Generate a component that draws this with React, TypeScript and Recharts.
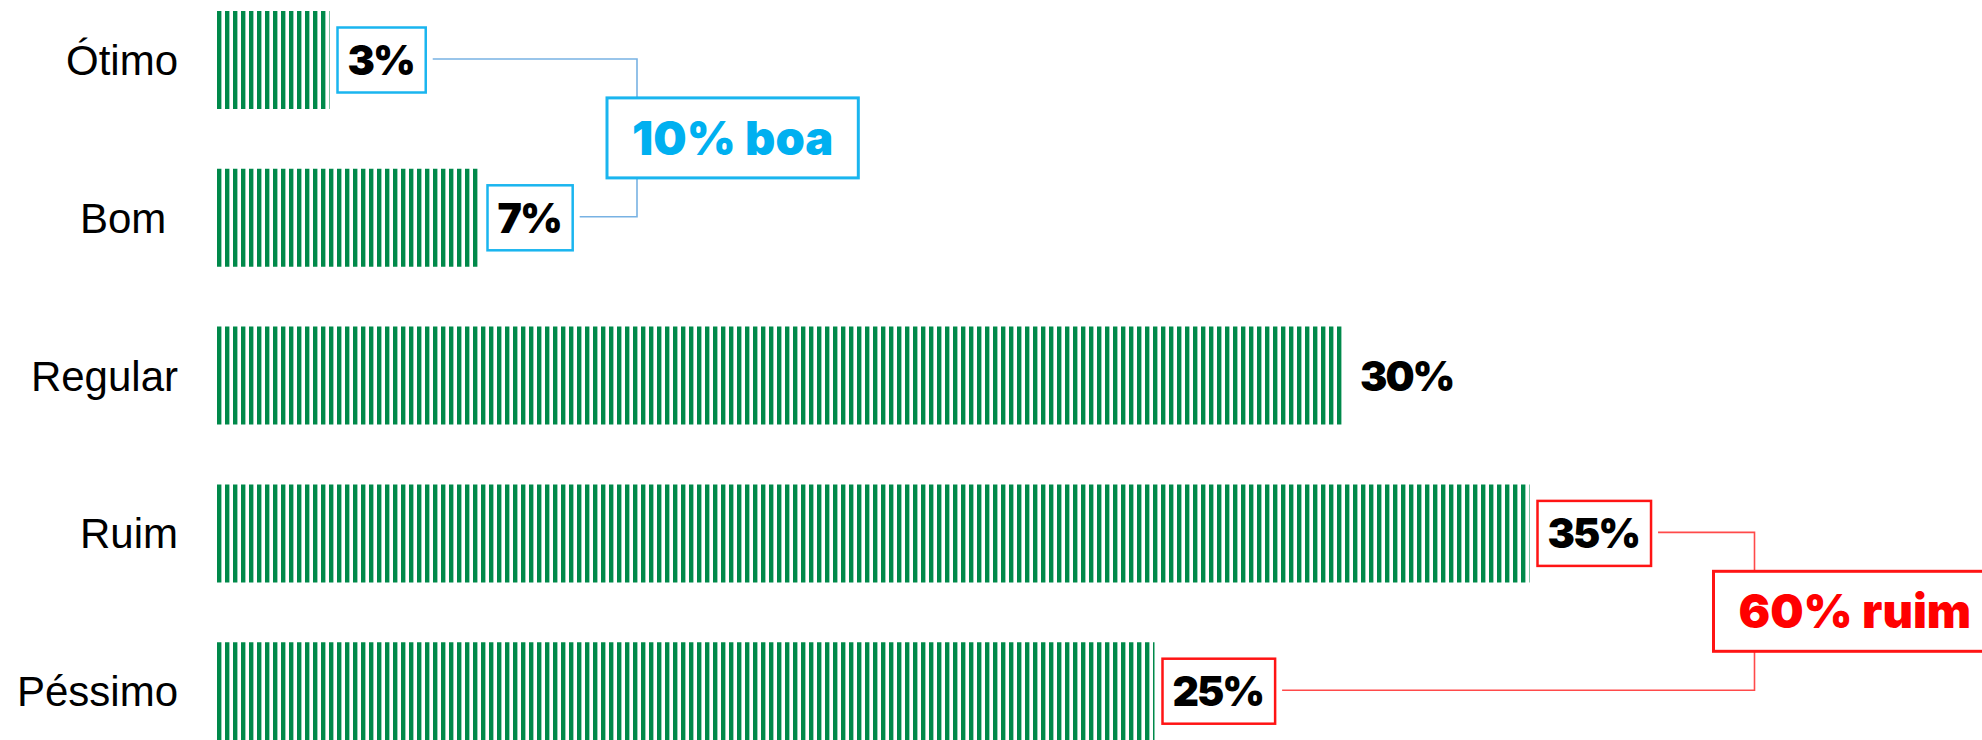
import React from 'react';
import { BarChart, Bar, XAxis, YAxis, LabelList } from 'recharts';

// data
const categories = ['Ótimo', 'Bom ', 'Regular', 'Ruim', 'Péssimo'];
const shares = [3, 7, 30, 35, 25];
const shareLabels = ['3%', '7%', '30%', '35%', '25%'];
// which summary group boxes each value label (null = plain label)
const shareGroup = ['boa', 'boa', null, 'ruim', 'ruim'];

const groupKeys = ['boa', 'ruim'];
const groupLabels = ['10% boa', '60% ruim'];
const groupFirst = [0, 3];
const groupLast = [1, 4];

const data = categories.map((name, i) => ({ name, value: shares[i], label: shareLabels[i] }));

// layout
const W = 1982;
const H = 740;
const CHART_TOP = -19;
const CHART_H = 789;
const AXIS_W = 217;
const RIGHT = 265;
const BAND = CHART_H / categories.length;
const BAR = 98;

const GREEN = '#00894a';
const STYLE: Record<string, any> = {
  boa: { text: '#00b0f0', box: '#1ab5ef', line: '#78b2e3', bracketAt: 11.2, boxShift: 30 },
  ruim: { text: '#ff0000', box: '#ff1414', line: '#ff4a4a', bracketAt: 41, boxShift: 41 },
};

const BOLD_FONT = "Inter, Lato, 'DejaVu Sans', sans-serif";
const VALUE_FONT = 41;
const VALUE_SPACING = -2;
const SUM_FONT = 47;

let ctx: CanvasRenderingContext2D | null = null;
const textWidth = (s: string, size: number, spacing = 0) => {
  if (!ctx && typeof document !== 'undefined') ctx = document.createElement('canvas').getContext('2d');
  let w = s.length * size * 0.6;
  if (ctx) {
    ctx.font = `900 ${size}px ${BOLD_FONT}`;
    w = ctx.measureText(s).width;
  }
  return w + (s.length - 1) * spacing;
};

const AxisTick = (props: any) => {
  const { x, y, payload } = props;
  return (
    <text
      x={x}
      y={y}
      dy={15}
      textAnchor="end"
      fill="#000"
      fontSize={42}
      fontFamily="'Liberation Sans', Arial, sans-serif"
      style={{ whiteSpace: 'pre' }}
    >
      {payload.value}
    </text>
  );
};

const ValueLabel = (props: any) => {
  const vb = props.viewBox || {};
  const x = props.x ?? vb.x;
  const y = props.y ?? vb.y;
  const width = props.width ?? vb.width;
  const height = props.height ?? vb.height;
  const index = props.index;
  const cy = y + height / 2;
  const unit = width / shares[index];
  const labelX = (i: number) => x + shares[i] * unit + 18;
  const boxRight = (i: number) => labelX(i) + textWidth(shareLabels[i], VALUE_FONT, VALUE_SPACING) + 10;

  const g = shareGroup[index];
  const tw = textWidth(shareLabels[index], VALUE_FONT, VALUE_SPACING);
  const gi = groupFirst.indexOf(index);

  let bracket = null;
  if (gi >= 0) {
    const st = STYLE[groupKeys[gi]];
    const last = groupLast[gi];
    const y1 = cy - 1;
    const y2 = cy + (last - index) * BAND - 1;
    const vx = x + st.bracketAt * unit;
    const sw = textWidth(groupLabels[gi], SUM_FONT) + 50;
    const bx = vx - st.boxShift;
    const my = (y1 + y2) / 2;
    bracket = (
      <g>
        <polyline
          points={`${boxRight(index) + 7},${y1} ${vx},${y1} ${vx},${y2} ${boxRight(last) + 7},${y2}`}
          fill="none"
          stroke={st.line}
          strokeWidth={1.6}
        />
        <rect x={bx} y={my - 40} width={sw} height={80} fill="#fff" stroke={st.box} strokeWidth={3} />
        <text
          x={bx + sw / 2}
          y={my + 17}
          textAnchor="middle"
          fill={st.text}
          fontSize={SUM_FONT}
          fontWeight={900}
          fontFamily={BOLD_FONT}
        >
          {groupLabels[gi]}
        </text>
      </g>
    );
  }

  return (
    <g>
      {bracket}
      {g && (
        <rect
          x={labelX(index) - 10}
          y={cy - 32.5}
          width={tw + 20}
          height={65}
          fill="#fff"
          stroke={STYLE[g].box}
          strokeWidth={2.5}
        />
      )}
      <text
        x={labelX(index)}
        y={cy + 15}
        fill="#000"
        fontSize={VALUE_FONT}
        fontWeight={900}
        letterSpacing={VALUE_SPACING}
        fontFamily={BOLD_FONT}
      >
        {shareLabels[index]}
      </text>
    </g>
  );
};

export default function App() {
  return (
    <div
      style={{
        position: 'absolute',
        left: 0,
        top: 0,
        width: W,
        height: H,
        overflow: 'hidden',
        background: '#fff',
      }}
    >
      <svg width={0} height={0} style={{ position: 'absolute' }}>
        <defs>
          <pattern id="stripes" patternUnits="userSpaceOnUse" x={AXIS_W} y={0} width={8} height={8}>
            <rect x={0} y={0} width={4.4} height={8} fill={GREEN} />
          </pattern>
        </defs>
      </svg>
      <div style={{ position: 'absolute', left: 0, top: CHART_TOP }}>
        <BarChart
          width={W}
          height={CHART_H}
          data={data}
          layout="vertical"
          margin={{ top: 0, right: RIGHT, bottom: 0, left: 0 }}
        >
          <XAxis type="number" domain={[0, 40]} hide />
          <YAxis
            type="category"
            dataKey="name"
            width={AXIS_W}
            axisLine={false}
            tickLine={false}
            tickSize={0}
            tickMargin={39}
            tick={<AxisTick />}
            interval={0}
          />
          <Bar dataKey="value" fill="url(#stripes)" barSize={BAR} isAnimationActive={false}>
            <LabelList dataKey="label" content={<ValueLabel />} />
          </Bar>
        </BarChart>
      </div>
    </div>
  );
}
